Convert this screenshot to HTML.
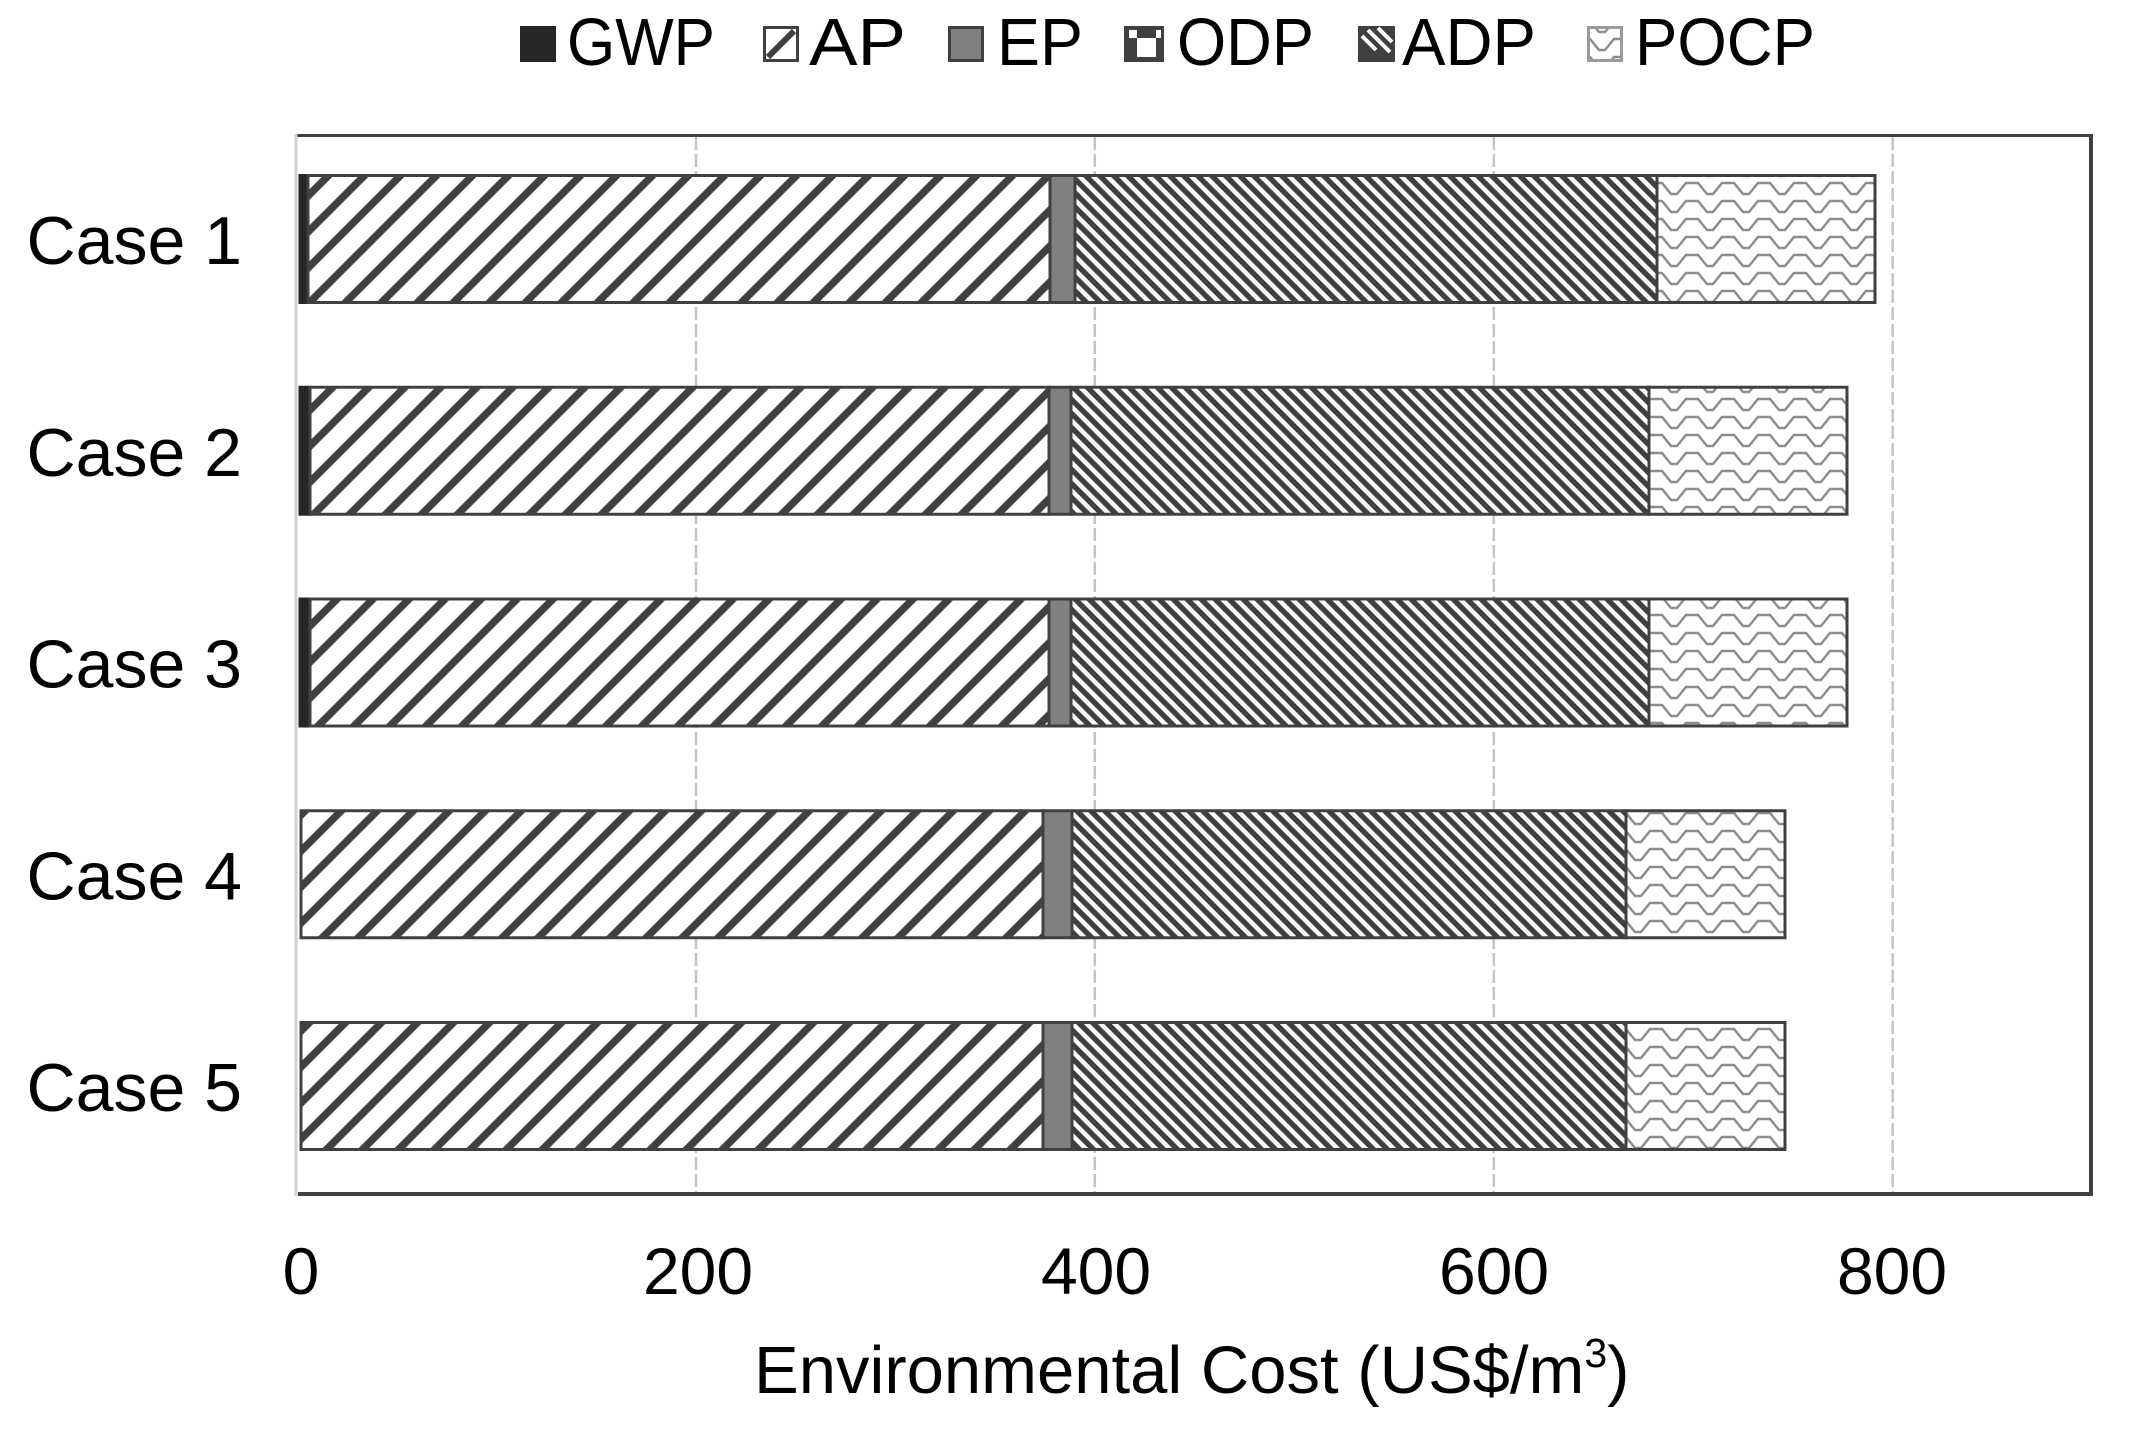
<!DOCTYPE html>
<html>
<head>
<meta charset="utf-8">
<style>
  html, body { margin:0; padding:0; background:#ffffff; }
  svg { display:block; }
  text { font-family: "Liberation Sans", Arial, sans-serif; fill:#000; }
</style>
</head>
<body>
<svg width="2137" height="1446" viewBox="0 0 2137 1446" xmlns="http://www.w3.org/2000/svg">
  <defs>
    <pattern id="pAP" patternUnits="userSpaceOnUse" width="36" height="36">
      <rect width="36" height="36" fill="#fff"/>
      <path d="M-6,6 L6,-6 M0,36 L36,0 M30,42 L42,30" stroke="#404040" stroke-width="7.5"/>
    </pattern>
    <pattern id="pADP" patternUnits="userSpaceOnUse" width="14" height="14">
      <rect width="14" height="14" fill="#fff"/>
      <path d="M-7,-7 L21,21 M-14,0 L14,28 M0,-14 L28,14" stroke="#404040" stroke-width="5.4"/>
    </pattern>
    <pattern id="pPOCP" patternUnits="userSpaceOnUse" width="36" height="18">
      <rect width="36" height="18" fill="#fff"/>
      <path d="M0,3 L6,3 L15,14 L21,14 L30,3 L36,3" stroke="#8c8c8c" stroke-width="2.4" fill="none"/>
    </pattern>
  </defs>

  <!-- Legend -->
  <rect x="520" y="26" width="36" height="36" fill="#262626"/>
  <text x="567" y="65" font-size="67" textLength="148" lengthAdjust="spacingAndGlyphs">GWP</text>

  <rect x="764.5" y="27.5" width="33" height="33" fill="#fff" stroke="#404040" stroke-width="3"/>
  <path d="M768,57 L794,31" stroke="#404040" stroke-width="6"/>
  <text x="809" y="65" font-size="67" textLength="97" lengthAdjust="spacingAndGlyphs">AP</text>

  <rect x="949.5" y="27.5" width="33" height="33" fill="#808080" stroke="#404040" stroke-width="3"/>
  <text x="997" y="65" font-size="67" textLength="86" lengthAdjust="spacingAndGlyphs">EP</text>

  <rect x="1124" y="26" width="40" height="36" fill="#404040"/>
  <rect x="1129" y="30" width="8" height="8" fill="#fff"/>
  <rect x="1156" y="30" width="5" height="8" fill="#fff"/>
  <rect x="1137" y="38" width="19" height="19" fill="#fff"/>
  <text x="1177" y="65" font-size="67" textLength="137" lengthAdjust="spacingAndGlyphs">ODP</text>

  <rect x="1358" y="26" width="37" height="36" fill="#404040"/>
  <path d="M1362,36 L1376,50 M1368,30 L1390,52 M1378,28 L1392,42" stroke="#fff" stroke-width="4"/>
  <text x="1402" y="65" font-size="67" textLength="134" lengthAdjust="spacingAndGlyphs">ADP</text>

  <rect x="1588.5" y="27.5" width="33" height="33" fill="url(#pPOCP)" stroke="#9a9a9a" stroke-width="3"/>
  <text x="1635" y="65" font-size="67" textLength="180" lengthAdjust="spacingAndGlyphs">POCP</text>

  <!-- Gridlines -->
  <g stroke="#c4c4c4" stroke-width="2.5" stroke-dasharray="13 4">
    <line x1="696" y1="137" x2="696" y2="1192"/>
    <line x1="1094.8" y1="137" x2="1094.8" y2="1192"/>
    <line x1="1493.8" y1="137" x2="1493.8" y2="1192"/>
    <line x1="1892.7" y1="137" x2="1892.7" y2="1192"/>
  </g>

  <!-- Plot frame -->
  <line x1="296" y1="135.5" x2="2093" y2="135.5" stroke="#404040" stroke-width="3"/>
  <line x1="2091" y1="134" x2="2091" y2="1196" stroke="#404040" stroke-width="4"/>
  <line x1="298" y1="1194" x2="2093" y2="1194" stroke="#404040" stroke-width="4"/>
  <line x1="296" y1="134" x2="296" y2="1196" stroke="#d2d2d2" stroke-width="3"/>

  <!-- Bars -->
  <g stroke="#404040" stroke-width="3">
    <!-- Case 1 -->
    <rect x="300" y="175.5" width="8" height="127" fill="#262626" stroke="#262626"/>
    <rect x="308" y="175.5" width="742" height="127" fill="url(#pAP)"/>
    <rect x="1050" y="175.5" width="25" height="127" fill="#808080"/>
    <rect x="1075" y="175.5" width="582" height="127" fill="url(#pADP)"/>
    <rect x="1657" y="175.5" width="218" height="127" fill="url(#pPOCP)"/>

    <!-- Case 2 -->
    <rect x="300" y="387.25" width="10" height="127" fill="#262626" stroke="#262626"/>
    <rect x="310" y="387.25" width="739" height="127" fill="url(#pAP)"/>
    <rect x="1049" y="387.25" width="22" height="127" fill="#808080"/>
    <rect x="1071" y="387.25" width="578" height="127" fill="url(#pADP)"/>
    <rect x="1649" y="387.25" width="198" height="127" fill="url(#pPOCP)"/>

    <!-- Case 3 -->
    <rect x="300" y="599" width="10" height="127" fill="#262626" stroke="#262626"/>
    <rect x="310" y="599" width="739" height="127" fill="url(#pAP)"/>
    <rect x="1049" y="599" width="22" height="127" fill="#808080"/>
    <rect x="1071" y="599" width="578" height="127" fill="url(#pADP)"/>
    <rect x="1649" y="599" width="198" height="127" fill="url(#pPOCP)"/>

    <!-- Case 4 -->
    <rect x="301" y="810.75" width="742" height="127" fill="url(#pAP)"/>
    <rect x="1043" y="810.75" width="29" height="127" fill="#808080"/>
    <rect x="1072" y="810.75" width="554" height="127" fill="url(#pADP)"/>
    <rect x="1626" y="810.75" width="159" height="127" fill="url(#pPOCP)"/>

    <!-- Case 5 -->
    <rect x="301" y="1022.5" width="742" height="127" fill="url(#pAP)"/>
    <rect x="1043" y="1022.5" width="29" height="127" fill="#808080"/>
    <rect x="1072" y="1022.5" width="554" height="127" fill="url(#pADP)"/>
    <rect x="1626" y="1022.5" width="159" height="127" fill="url(#pPOCP)"/>
  </g>

  <!-- Y labels -->
  <g font-size="68" text-anchor="end">
    <text x="242" y="264">Case 1</text>
    <text x="242" y="475.75">Case 2</text>
    <text x="242" y="687.5">Case 3</text>
    <text x="242" y="899.25">Case 4</text>
    <text x="242" y="1111">Case 5</text>
  </g>

  <!-- X tick labels -->
  <g font-size="66" text-anchor="middle">
    <text x="301" y="1294">0</text>
    <text x="698" y="1294">200</text>
    <text x="1096" y="1294">400</text>
    <text x="1494" y="1294">600</text>
    <text x="1892" y="1294">800</text>
  </g>

  <!-- Axis title -->
  <text x="754" y="1393" font-size="67">Environmental Cost (US$/m<tspan font-size="41" dy="-26">3</tspan><tspan dy="26">)</tspan></text>
</svg>
</body>
</html>
